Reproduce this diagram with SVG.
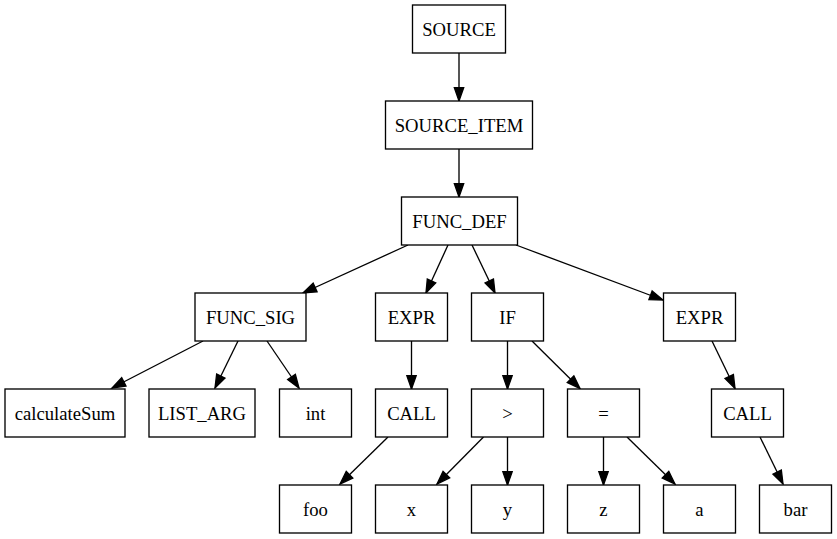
<svg xmlns="http://www.w3.org/2000/svg" width="837" height="539" viewBox="0 0 837 539">
<style>
.n rect{fill:#fff;stroke:#000;stroke-width:1.33}
.n text{font-family:"Liberation Serif","Times New Roman",serif;font-size:18.67px;text-anchor:middle;fill:#000}
.e path{fill:none;stroke:#000;stroke-width:1.33;marker-end:url(#ah)}
</style>
<defs>
<marker id="ah" markerUnits="userSpaceOnUse" markerWidth="14" markerHeight="10" refX="13.3" refY="4.67" orient="auto" overflow="visible">
<path d="M0,0 L13.3,4.67 L0,9.33 Z" fill="#000" stroke="#000" stroke-width="1.33"/>
</marker>
</defs>
<rect width="837" height="539" fill="#fff"/>
<g id="edges" class="e">
<path d="M459,53 L459,101"/>
<path d="M459,149 L459,197"/>
<path d="M408,245 L303,293"/>
<path d="M448,245 L426,293"/>
<path d="M472,245 L495,293"/>
<path d="M516,245 L663,300"/>
<path d="M203,341 L112,388"/>
<path d="M238,341 L215,388"/>
<path d="M267,341 L299,388"/>
<path d="M411.5,341 L411.5,389"/>
<path d="M388,437 L340,484"/>
<path d="M507.5,341 L507.5,389"/>
<path d="M532,341 L580,388.5"/>
<path d="M712,341 L735,388.5"/>
<path d="M483.5,437 L437,484"/>
<path d="M507.5,437 L507.5,485"/>
<path d="M603.5,437 L603.5,485"/>
<path d="M627,437 L675,484"/>
<path d="M760,437 L783,484"/>
</g>
<g id="n_source" class="n"><rect x="412.5" y="5" width="93" height="48"/><text x="459" y="36">SOURCE</text></g>
<g id="n_source_item" class="n"><rect x="385.5" y="101" width="147" height="48"/><text x="459" y="132">SOURCE_ITEM</text></g>
<g id="n_func_def" class="n"><rect x="401.5" y="197" width="116" height="48"/><text x="459.5" y="228">FUNC_DEF</text></g>
<g id="n_func_sig" class="n"><rect x="195" y="293" width="111" height="48"/><text x="250.5" y="324">FUNC_SIG</text></g>
<g id="n_expr1" class="n"><rect x="375.5" y="293" width="72" height="48"/><text x="411.5" y="324">EXPR</text></g>
<g id="n_if" class="n"><rect x="471.5" y="293" width="72" height="48"/><text x="507.5" y="324">IF</text></g>
<g id="n_expr2" class="n"><rect x="663.5" y="293" width="72" height="48"/><text x="699.5" y="324">EXPR</text></g>
<g id="n_calculatesum" class="n"><rect x="5" y="389" width="120" height="48"/><text x="65" y="420">calculateSum</text></g>
<g id="n_list_arg" class="n"><rect x="149" y="389" width="106" height="48"/><text x="202" y="420">LIST_ARG</text></g>
<g id="n_int" class="n"><rect x="279.5" y="389" width="72" height="48"/><text x="315.5" y="420">int</text></g>
<g id="n_call1" class="n"><rect x="375.5" y="389" width="72" height="48"/><text x="411.5" y="420">CALL</text></g>
<g id="n_gt" class="n"><rect x="471.5" y="389" width="72" height="48"/><text x="507.5" y="420">&gt;</text></g>
<g id="n_eq" class="n"><rect x="567.5" y="389" width="72" height="48"/><text x="603.5" y="420">=</text></g>
<g id="n_call2" class="n"><rect x="711.5" y="389" width="72" height="48"/><text x="747.5" y="420">CALL</text></g>
<g id="n_foo" class="n"><rect x="279.5" y="485" width="72" height="48"/><text x="315.5" y="516">foo</text></g>
<g id="n_x" class="n"><rect x="375.5" y="485" width="72" height="48"/><text x="411.5" y="516">x</text></g>
<g id="n_y" class="n"><rect x="471.5" y="485" width="72" height="48"/><text x="507.5" y="516">y</text></g>
<g id="n_z" class="n"><rect x="567.5" y="485" width="72" height="48"/><text x="603.5" y="516">z</text></g>
<g id="n_a" class="n"><rect x="663.5" y="485" width="72" height="48"/><text x="699.5" y="516">a</text></g>
<g id="n_bar" class="n"><rect x="759.5" y="485" width="72" height="48"/><text x="795.5" y="516">bar</text></g>
</svg>
